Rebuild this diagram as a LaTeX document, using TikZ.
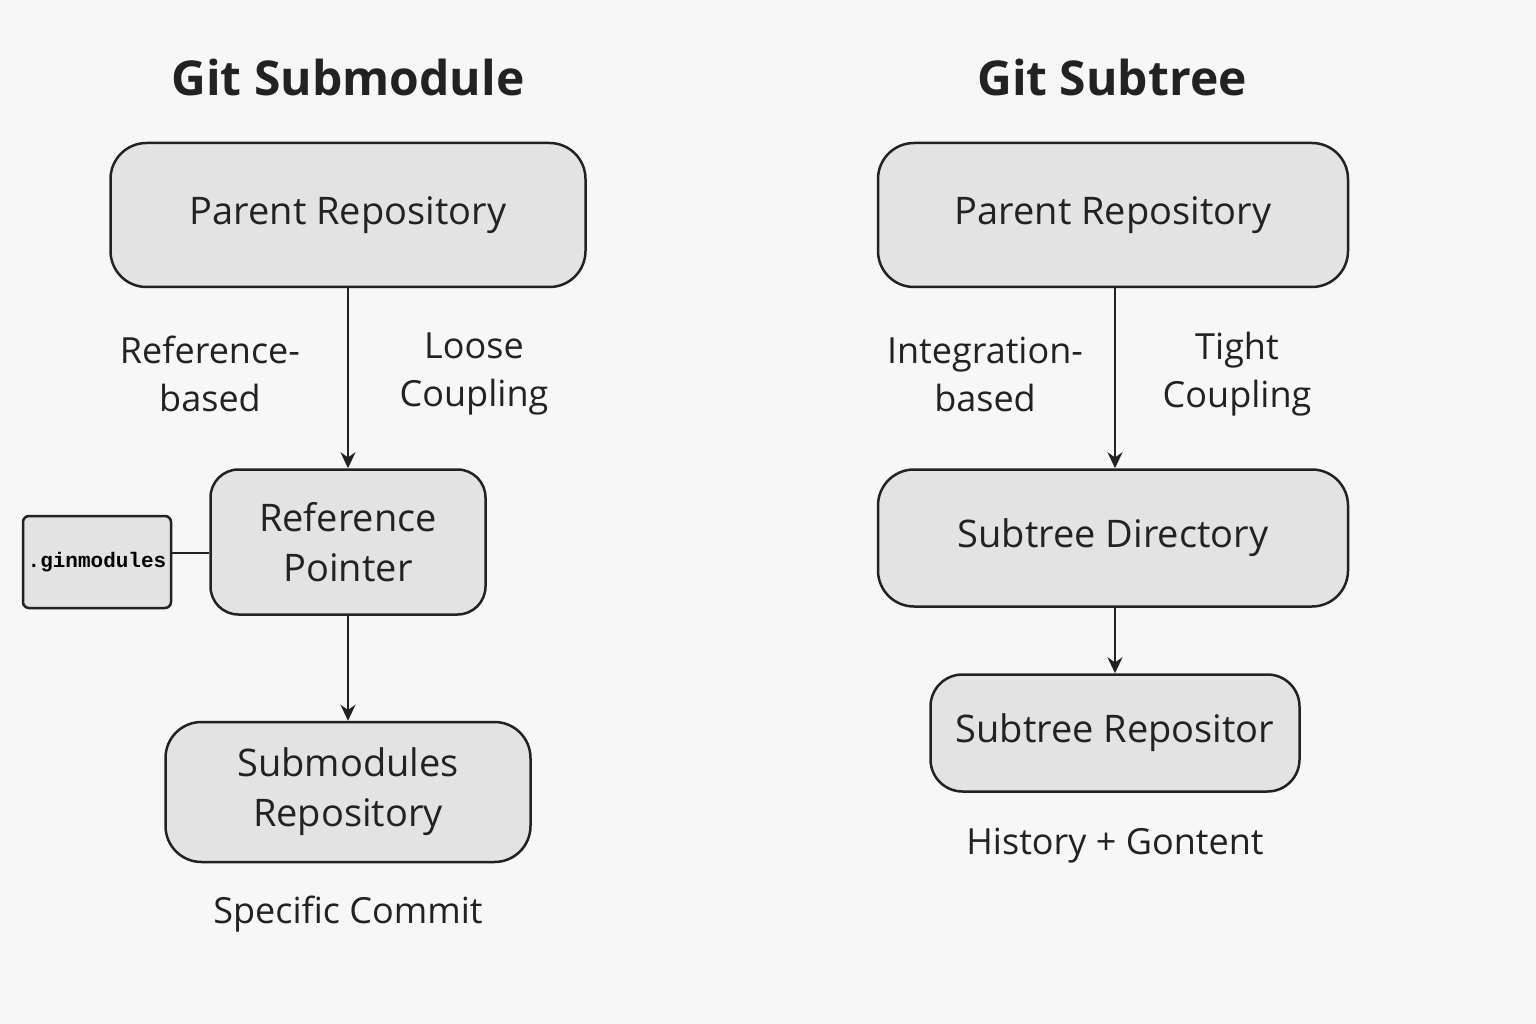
\documentclass[tikz,border=0pt]{standalone}
\usepackage{fontspec}
\setmainfont{Open Sans}
\newfontfamily\monof{Liberation Mono}
\usetikzlibrary{arrows.meta}
\definecolor{bg}{HTML}{F7F7F7}
\definecolor{boxf}{HTML}{E3E3E3}
\definecolor{ink}{HTML}{222222}
\begin{document}
\begin{tikzpicture}[x=1pt,y=-1pt,
  box/.style={draw=ink,line width=2.5pt,fill=boxf,rounded corners=36pt,align=center,font=\fontsize{38}{50}\selectfont,text=ink,inner sep=0pt},
  lbl/.style={align=center,font=\fontsize{36}{48}\selectfont,text=ink},
  ttl/.style={font=\fontsize{48}{56}\selectfont\bfseries,text=ink},
  arr/.style={draw=ink,line width=2pt,-{Stealth[length=16pt,width=15pt]}}]
\fill[bg] (0,0) rectangle (1536,1024);
\useasboundingbox (0,0) rectangle (1536,1024);
% left
\node[ttl] (t1) at (348,78) {Git Submodule};
\node[box,minimum width=475pt,minimum height=144pt] (p1) at (348,215) {Parent Repository};
\node[lbl] (l1) at (210,374) {Reference-\\based};
\node[lbl] (l2) at (474,374) {Loose\\Coupling};
\node[box,minimum width=275pt,minimum height=145pt,rounded corners=28pt] (rp) at (348,542) {Reference\\Pointer};
\node[draw=ink,line width=2.5pt,fill=boxf,rounded corners=6pt,minimum width=148pt,minimum height=92pt,font=\monof\bfseries\fontsize{21}{24}\selectfont] (gm) at (97,562) {.ginmodules};
\node[box,minimum width=365pt,minimum height=140pt] (sr) at (348,792) {Submodules\\Repository};
\node[lbl] (sc) at (348,914) {Specific Commit};
\draw[arr] (p1) -- (rp);
\draw[arr] (rp) -- (sr);
\draw[draw=ink,line width=2.5pt] (gm.east |- 0,553) -- (rp.west |- 0,553);
% right
\node[ttl] (t2) at (1112,78) {Git Subtree};
\node[box,minimum width=470pt,minimum height=144pt] (p2) at (1113,215) {Parent Repository};
\node[lbl] (l3) at (985,374) {Integration-\\based};
\node[lbl] (l4) at (1237,374) {Tight\\Coupling};
\node[box,minimum width=470pt,minimum height=137pt] (sd) at (1113,538) {Subtree Directory};
\node[box,minimum width=369pt,minimum height=117pt,rounded corners=32pt] (st) at (1115,733) {Subtree Repositor};
\node[lbl] (hc) at (1115,846) {History + Gontent};
\draw[arr] (p2.south -| 1115,0) -- (sd.north -| 1115,0);
\draw[arr] (sd.south -| 1115,0) -- (st.north -| 1115,0);
\end{tikzpicture}
\end{document}
